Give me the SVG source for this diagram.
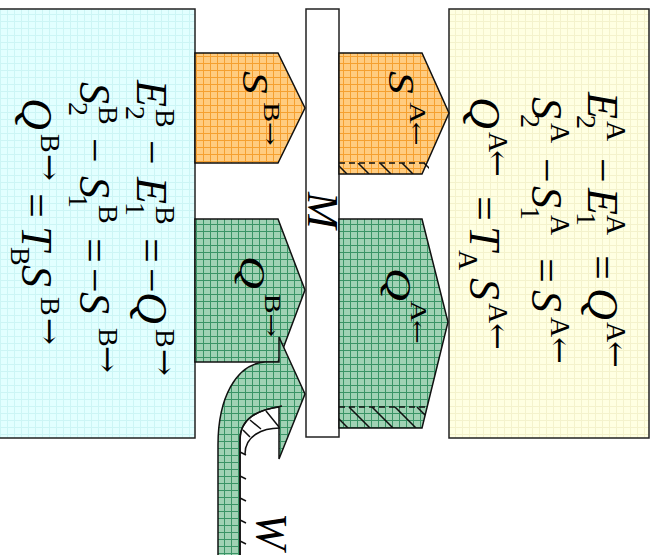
<svg xmlns="http://www.w3.org/2000/svg" width="660" height="555" viewBox="0 0 660 555">
<defs>
<pattern id="gCyan" width="7" height="7" patternUnits="userSpaceOnUse"><rect width="7" height="7" fill="#e2ffff"/><path d="M0,0.5H7M0.5,0V7" stroke="#ccf5f5" stroke-width="1"/></pattern>
<pattern id="gYellow" width="7" height="7" patternUnits="userSpaceOnUse"><rect width="7" height="7" fill="#ffffe2"/><path d="M0,0.5H7M0.5,0V7" stroke="#f4f2cc" stroke-width="1"/></pattern>
<pattern id="gOrange" width="7" height="7" patternUnits="userSpaceOnUse"><rect width="7" height="7" fill="#ffcc80"/><path d="M0,0.5H7M0.5,0V7" stroke="#f5a030" stroke-width="1"/></pattern>
<pattern id="gGreen" width="7" height="7" patternUnits="userSpaceOnUse"><rect width="7" height="7" fill="#a0d2b4"/><path d="M0,0.5H7M0.5,0V7" stroke="#3a9466" stroke-width="1"/></pattern>
<clipPath id="cSA"><rect x="339" y="163" width="90" height="11"/></clipPath>
<clipPath id="cQA"><path d="M339,407H427L422,428H339Z"/></clipPath>
</defs>
<style>
.box{stroke:#222;stroke-width:1.5}
.arr{stroke:#111;stroke-width:1.5;stroke-linejoin:miter}
.hatch{stroke:#111;stroke-width:1.5;fill:none}
.dash{stroke:#111;stroke-width:1.5;stroke-dasharray:6,4;fill:none}
text{font-family:"Liberation Serif","Times New Roman",serif;fill:#000}
.eq{font-size:44px}
.lab{font-size:35px}
.it{font-style:italic}
.s{font-size:28px;font-style:normal}
.ss{font-size:23px;font-style:normal}
.ar{font-family:"DejaVu Serif",serif;font-size:32px;font-style:normal}
.ar2{font-family:"DejaVu Serif",serif;font-size:22px;font-style:normal}
</style>

<g id="boxB">
<rect class="box" x="-1" y="9" width="196" height="429" fill="url(#gCyan)"/>
<text class="eq" transform="translate(137,0) rotate(90)"><tspan class="it" x="80" y="0">E</tspan><tspan class="s" x="106" y="11">2</tspan><tspan class="s" x="109" y="-19">B</tspan><tspan x="140" y="0">−</tspan><tspan class="it" x="177" y="0">E</tspan><tspan class="s" x="202" y="11">1</tspan><tspan class="s" x="206" y="-19">B</tspan><tspan x="238" y="0">=</tspan><tspan x="268" y="0">−</tspan><tspan class="it" x="292" y="0">Q</tspan><tspan class="s" x="329" y="-19">B</tspan><tspan class="ar" x="349" y="-17">→</tspan></text>
<text class="eq" transform="translate(80,0) rotate(90)"><tspan class="it" x="82" y="0">S</tspan><tspan class="s" x="102" y="11">2</tspan><tspan class="s" x="106" y="-19">B</tspan><tspan x="138" y="0">−</tspan><tspan class="it" x="176" y="0">S</tspan><tspan class="s" x="194" y="11">1</tspan><tspan class="s" x="205" y="-19">B</tspan><tspan x="238" y="0">=</tspan><tspan x="268" y="0">−</tspan><tspan class="it" x="292" y="0">S</tspan><tspan class="s" x="328" y="-19">B</tspan><tspan class="ar" x="346" y="-17">→</tspan></text>
<text class="eq" transform="translate(22,0) rotate(90)"><tspan class="it" x="98" y="0">Q</tspan><tspan class="s" x="134" y="-19">B</tspan><tspan class="ar" x="154" y="-17">→</tspan><tspan x="193" y="0">=</tspan><tspan class="it" x="226" y="0">T</tspan><tspan class="s" x="247" y="11">B</tspan><tspan class="it" x="265" y="0">S</tspan><tspan class="s" x="297" y="-19">B</tspan><tspan class="ar" x="318" y="-17">→</tspan></text>
</g>

<g id="boxA">
<rect class="box" x="449" y="9" width="200" height="429" fill="url(#gYellow)"/>
<text class="eq" transform="translate(588,0) rotate(90)"><tspan class="it" x="92" y="0">E</tspan><tspan class="s" x="115" y="11">2</tspan><tspan class="s" x="121" y="-19">A</tspan><tspan x="158" y="0">−</tspan><tspan class="it" x="188" y="0">E</tspan><tspan class="s" x="212" y="11">1</tspan><tspan class="s" x="215" y="-19">A</tspan><tspan x="255" y="0">=</tspan><tspan class="it" x="288" y="0">Q</tspan><tspan class="s" x="322" y="-19">A</tspan><tspan class="ar" x="341" y="-17">←</tspan></text>
<text class="eq" transform="translate(532,0) rotate(90)"><tspan class="it" x="97" y="0">S</tspan><tspan class="s" x="114" y="11">2</tspan><tspan class="s" x="123" y="-19">A</tspan><tspan x="158" y="0">−</tspan><tspan class="it" x="186" y="0">S</tspan><tspan class="s" x="206" y="11">1</tspan><tspan class="s" x="215" y="-19">A</tspan><tspan x="258" y="0">=</tspan><tspan class="it" x="290" y="0">S</tspan><tspan class="s" x="317" y="-19">A</tspan><tspan class="ar" x="337" y="-17">←</tspan></text>
<text class="eq" transform="translate(470,0) rotate(90)"><tspan class="it" x="97" y="0">Q</tspan><tspan class="s" x="132" y="-19">A</tspan><tspan class="ar" x="150" y="-17">←</tspan><tspan x="196" y="0">=</tspan><tspan class="it" x="226" y="0">T</tspan><tspan class="s" x="250" y="11">A</tspan><tspan class="it" x="278" y="0">S</tspan><tspan class="s" x="303" y="-19">A</tspan><tspan class="ar" x="323" y="-17">←</tspan></text>
</g>

<g id="membrane">
<rect class="box" x="306" y="9" width="33" height="428" fill="#fff"/>
<text class="eq it" transform="translate(308,192) rotate(90)" font-size="40">M</text>
</g>

<g id="connectors">
<g id="SB">
<path class="arr" d="M195,53H278L305,108L278,163H195Z" fill="url(#gOrange)"/>
<text class="lab" transform="translate(243,71) rotate(90) scale(1.3,1)"><tspan class="it" x="0" y="0">S</tspan><tspan class="ss" x="24" y="-21">B</tspan><tspan class="ar2" x="39" y="-20">→</tspan></text>
</g>
<g id="SA">
<path class="arr" d="M339,53H422L449,113L422,174H339Z" fill="url(#gOrange)"/>
<path class="dash" d="M339,163H426"/>
<g clip-path="url(#cSA)" class="hatch"><path d="M336,163l11,11M358,163l11,11M380,163l11,11M402,163l11,11M424,163l11,11"/></g>
<text class="lab" transform="translate(389,71) rotate(90) scale(1.3,1)"><tspan class="it" x="0" y="0">S</tspan><tspan class="ss" x="24" y="-21">A</tspan><tspan class="ar2" x="39" y="-20">←</tspan></text>
</g>
<g id="QB">
<path class="arr" d="M195,219H278L305,290L278,362H195Z" fill="url(#gGreen)"/>
<text class="lab" transform="translate(240,256) rotate(90) scale(1.3,1)"><tspan class="it" x="0" y="0">Q</tspan><tspan class="ss" x="29" y="-25">B</tspan><tspan class="ar2" x="44" y="-24">→</tspan></text>
</g>
<g id="QA">
<path class="arr" d="M339,219H422L448,322L422,428H339Z" fill="url(#gGreen)"/>
<path class="dash" d="M339,407H427"/>
<g clip-path="url(#cQA)" class="hatch"><path d="M327,407l21,21M349,407l21,21M372,407l21,21M395,407l21,21M417,407l21,21"/></g>
<text class="lab" transform="translate(386,268) rotate(90) scale(1.3,1)"><tspan class="it" x="0" y="0">Q</tspan><tspan class="ss" x="25" y="-25">A</tspan><tspan class="ar2" x="40" y="-24">←</tspan></text>
</g>
<g id="W">
<path class="arr" d="M218,556V445C218,398 236,364 265,362H279V337L305,394L279,459V407C256,410 240,420 240,440V556" fill="url(#gGreen)"/>
<path class="hatch" d="M282,406C258,410 240,418 240,440V556"/>
<path class="hatch" d="M280,428C262,428 245,436 245,454"/>
<path class="hatch" d="M243,430l7,7M250,420l11,9M266,411l13,16M240,452l6,3M240,476l6,3M240,498l6,3M240,520l6,3M240,541l6,3"/>
<text class="eq it" transform="translate(257,513) rotate(90)">W</text>
</g>
</g>
</svg>
